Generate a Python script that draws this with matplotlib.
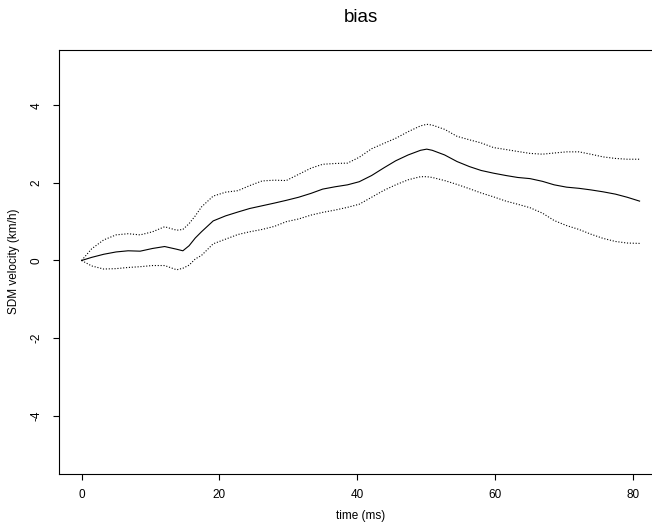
import matplotlib
matplotlib.use("Agg")
import matplotlib.pyplot as plt

plt.rcParams['font.family'] = ['Liberation Sans', 'DejaVu Sans']

time_ms = [0, 1.45, 3.2, 5.0, 6.75, 8.5, 10.3, 12.05, 13.8, 14.7, 15.6, 16.5, 17.4, 19.1, 20.9,
           22.7, 24.4, 26.2, 28.0, 29.7, 31.5, 33.3, 35.0, 36.8, 38.6, 40.3, 42.1, 43.9, 45.6,
           47.4, 49.2, 50.1, 50.9, 52.7, 54.5, 56.3, 58.0, 59.8, 61.6, 63.3, 65.1, 66.9, 68.6,
           70.4, 72.2, 73.9, 75.7, 77.5, 79.2, 81.0]
bias_mean = [0, 0.08, 0.16, 0.22, 0.25, 0.24, 0.31, 0.36, 0.29, 0.25, 0.38, 0.58, 0.74, 1.02,
             1.15, 1.25, 1.34, 1.41, 1.48, 1.55, 1.63, 1.73, 1.84, 1.90, 1.95, 2.03, 2.19, 2.39,
             2.57, 2.72, 2.84, 2.87, 2.84, 2.72, 2.55, 2.42, 2.32, 2.25, 2.19, 2.14, 2.11, 2.04,
             1.95, 1.89, 1.86, 1.82, 1.77, 1.71, 1.63, 1.53]
bias_upper = [0, 0.30, 0.53, 0.66, 0.69, 0.66, 0.74, 0.87, 0.78, 0.80, 0.95, 1.15, 1.38, 1.66,
              1.76, 1.80, 1.93, 2.05, 2.07, 2.06, 2.22, 2.38, 2.48, 2.50, 2.51, 2.66, 2.88, 3.02,
              3.15, 3.32, 3.47, 3.51, 3.49, 3.38, 3.20, 3.11, 3.03, 2.91, 2.86, 2.81, 2.76, 2.74,
              2.77, 2.80, 2.80, 2.74, 2.67, 2.63, 2.61, 2.61]
bias_lower = [0, -0.14, -0.22, -0.21, -0.18, -0.16, -0.13, -0.13, -0.24, -0.20, -0.12, 0.04,
              0.13, 0.43, 0.55, 0.67, 0.74, 0.80, 0.88, 1.00, 1.07, 1.17, 1.24, 1.30, 1.37, 1.45,
              1.63, 1.81, 1.95, 2.08, 2.16, 2.16, 2.14, 2.06, 1.96, 1.85, 1.74, 1.64, 1.53, 1.45,
              1.36, 1.22, 1.03, 0.90, 0.80, 0.68, 0.57, 0.49, 0.45, 0.44]
x_ticks = [0, 20, 40, 60, 80]
y_ticks = [-4, -2, 0, 2, 4]

W, H = 652, 524
fig = plt.figure(figsize=(W / 100, H / 100), dpi=100)
left_px, right_px, top_px, bottom_px = 59.3, 661.9, 50, 473.5
ax = fig.add_axes([left_px / W, (H - bottom_px) / H,
                   (right_px - left_px) / W, (bottom_px - top_px) / H])

ax.plot(time_ms, bias_mean, color='black', lw=0.8, solid_joinstyle='round')
ax.plot(time_ms, bias_upper, color='black', lw=0.8, linestyle=(0, (1, 1.6)))
ax.plot(time_ms, bias_lower, color='black', lw=0.8, linestyle=(0, (1, 1.6)))

ax.set_xlim(-3.24, 84.24)
ax.set_ylim(-5.49, 5.425)
ax.set_xticks(x_ticks)
ax.set_yticks(y_ticks)
ax.set_yticklabels([str(v) for v in y_ticks], rotation=90, va='center')
ax.tick_params(axis='both', direction='out', length=4.5, width=0.8, labelsize=8.5, colors='black')
ax.tick_params(axis='x', pad=6.5)
ax.tick_params(axis='y', pad=7.5)
for s in ax.spines.values():
    s.set_linewidth(0.8)
    s.set_color('black')

ax.set_xlabel('time (ms)', fontsize=8.5, labelpad=7)
ax.set_ylabel('SDM velocity (km/h)', fontsize=8.5, labelpad=8)
ax.set_title('bias', fontsize=13.5, pad=20)

fig.savefig('out.png', dpi=100)
